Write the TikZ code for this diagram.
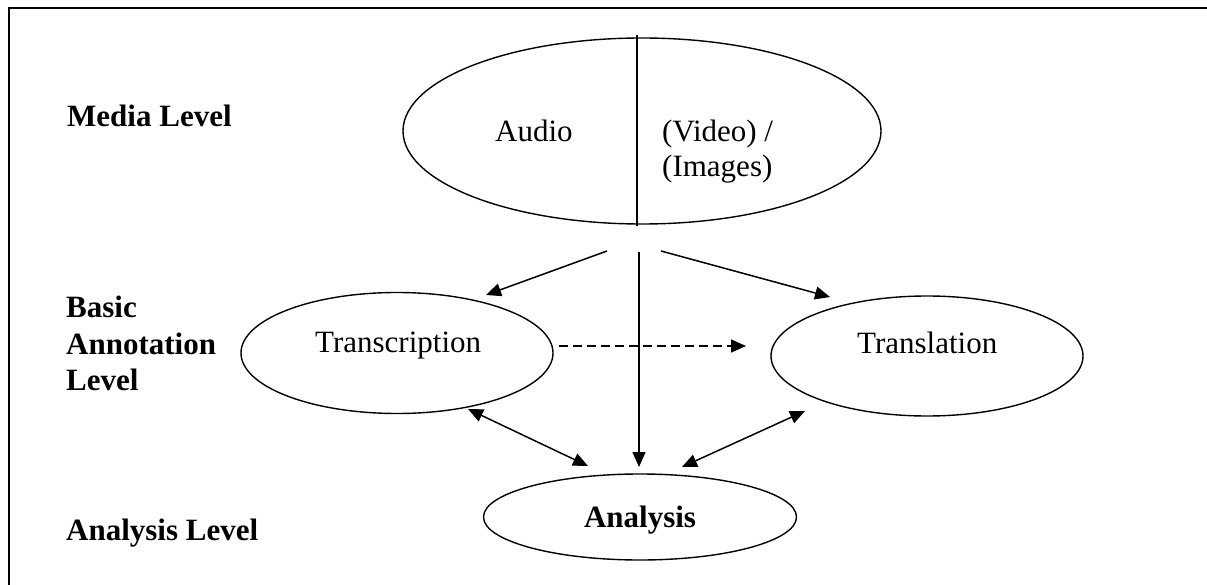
\documentclass[tikz,border=0pt]{standalone}
\usepackage{fontspec}
\setmainfont{Liberation Serif}
\usetikzlibrary{shapes.geometric,arrows.meta}
\tikzset{
  ell/.style={draw, ellipse, line width=1.4pt, inner sep=0pt},
  txt/.style={anchor=base west, inner sep=0pt, font=\fontsize{31}{36}\selectfont},
  lvl/.style={txt, font=\fontsize{31}{36}\selectfont\bfseries},
  conn/.style={line width=1.5pt, -{Triangle[length=15pt,width=13pt]}},
  biconn/.style={line width=1.5pt, {Triangle[length=15pt,width=13pt]}-{Triangle[length=15pt,width=13pt]}},
  frame/.style={line width=1.8pt}
}
\begin{document}
\begin{tikzpicture}[x=1pt,y=-1pt]
\useasboundingbox (0,0) rectangle (1207,585);
% frame
\coordinate (fbl) at (9,586);
\coordinate (ftl) at (9,8);
\coordinate (ftr) at (1208,8);
\draw[frame] (fbl) -- (ftl) -- (ftr);

% level labels
\node[lvl] (media) at (67,127) {Media Level};
\node[lvl] (basic) at (66,317) {Basic};
\node[lvl] (annot) at (66,354) {Annotation};
\node[lvl] (level) at (66,390) {Level};
\node[lvl] (anlevel) at (66,540) {Analysis Level};

% media ellipse
\node[ell, minimum width=478pt, minimum height=186pt] (mediaE) at (642,131) {};
\coordinate (divT) at (637,35);
\coordinate (divB) at (637,226);
\draw[line width=1.5pt] (divT) -- (divB);
\node[txt] (audio) at (495,142) {Audio};
\node[txt] (video) at (662,142) {(Video) /};
\node[txt] (images) at (662,177) {(Images)};

% basic annotation ellipses
\node[ell, minimum width=312pt, minimum height=121pt] (transE) at (397,353) {};
\node[txt] (transT) at (315,352) {Transcription};
\node[ell, minimum width=312pt, minimum height=120pt] (translE) at (927,356) {};
\node[txt] (translT) at (857,353) {Translation};

% analysis ellipse
\node[ell, minimum width=313pt, minimum height=86pt] (anE) at (640,517) {};
\node[txt, anchor=base, font=\fontsize{31}{36}\selectfont\bfseries] (anT) at (640,527) {Analysis};

% connector end points
\coordinate (s1) at (607,251);
\coordinate (e1) at (486,295);
\coordinate (s2) at (639,252);
\coordinate (e2) at (639,467);
\coordinate (s3) at (661,251);
\coordinate (e3) at (830,297);
\coordinate (ds) at (559,346);
\coordinate (de) at (746,346);
\coordinate (l1) at (468,409);
\coordinate (l2) at (588,466);
\coordinate (r1) at (805,411);
\coordinate (r2) at (682,467);

\draw[conn] (s1) -- (e1);
\draw[conn] (s2) -- (e2);
\draw[conn] (s3) -- (e3);
\draw[conn, dash pattern=on 9pt off 5pt] (ds) -- (de);
\draw[biconn] (l1) -- (l2);
\draw[biconn] (r1) -- (r2);
\end{tikzpicture}
\end{document}
